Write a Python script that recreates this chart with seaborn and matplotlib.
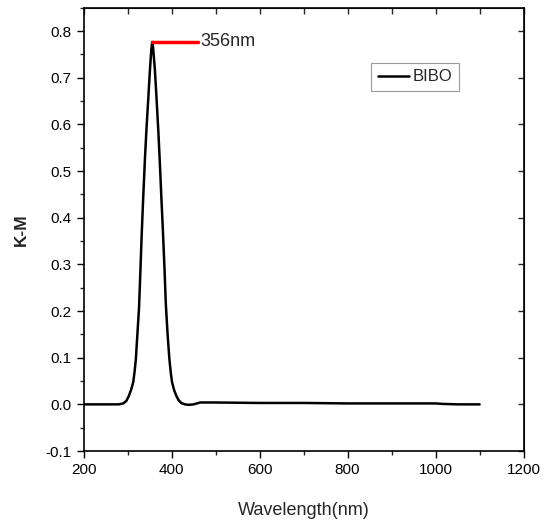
import numpy as np
import pandas as pd
import matplotlib
matplotlib.use("Agg")
import matplotlib.pyplot as plt
import seaborn as sns
from matplotlib.ticker import MultipleLocator

# K-M spectrum
wavelength = [200, 250, 280, 290, 297, 303, 308, 313, 316, 319, 322, 326, 329, 332,
              335, 339.5, 343, 347, 351, 354, 356, 358, 362, 366, 370, 373, 377,
              380, 384, 387, 391, 395, 398, 401, 406, 411, 416, 422, 430, 440,
              450, 465, 500, 600, 700, 800, 900, 1000, 1015, 1050, 1100]
km = [0.0, 0.0, 0.0, 0.002, 0.007, 0.018, 0.031, 0.048, 0.070, 0.098, 0.145,
      0.205, 0.280, 0.360, 0.430, 0.526, 0.590, 0.654, 0.719, 0.760, 0.777,
      0.765, 0.719, 0.654, 0.585, 0.526, 0.440, 0.380, 0.290, 0.215, 0.150,
      0.098, 0.070, 0.048, 0.030, 0.018, 0.009, 0.003, 0.0, -0.001, 0.0, 0.004,
      0.004, 0.003, 0.003, 0.002, 0.002, 0.002, 0.001, 0.0, 0.0]
series = "BIBO"
peak_nm = [356, 460]
peak_val = [0.777, 0.777]
peak_label = "356nm"

sns.set_style("ticks")
plt.rcParams['font.family'] = ['Liberation Sans', 'DejaVu Sans']

df = pd.DataFrame({"Wavelength": wavelength, "KM": km, "Sample": series})

fig = plt.figure(figsize=(5.46, 5.22), dpi=100)
ax = fig.add_axes([0.153, 0.136, 0.806, 0.849])

sns.lineplot(data=df, x="Wavelength", y="KM", hue="Sample", palette=["black"],
             linewidth=1.8, ax=ax)
ax.plot(peak_nm, peak_val, color="red", linewidth=2.5)
ax.text(peak_nm[1] + 5, peak_val[1], peak_label, fontsize=13, va="center", ha="left")

ax.set_xlim(200, 1200)
ax.set_ylim(-0.1, 0.85)
ax.xaxis.set_major_locator(MultipleLocator(200))
ax.xaxis.set_minor_locator(MultipleLocator(100))
ax.yaxis.set_minor_locator(MultipleLocator(0.05))
yt = np.arange(-0.1, 0.81, 0.1)
ax.set_yticks(yt)
ax.set_yticklabels([f"{v:.1f}" for v in yt])

ax.tick_params(axis="both", which="major", direction="out", length=5, width=1,
               labelsize=11, colors="black")
ax.tick_params(axis="both", which="minor", direction="out", length=3, width=1)

for s in ax.spines.values():
    s.set_linewidth(1.2)
    s.set_color("black")

# inward ticks on top and right
top = ax.secondary_xaxis("top")
top.xaxis.set_major_locator(MultipleLocator(100))
top.tick_params(direction="in", length=4, width=1, labeltop=False)
right = ax.secondary_yaxis("right")
right.yaxis.set_major_locator(MultipleLocator(0.1))
right.tick_params(direction="in", length=4, width=1, labelright=False)

ax.set_xlabel("Wavelength(nm)", fontsize=13, labelpad=18)
ax.set_ylabel("K-M", fontsize=12.5, fontweight="bold", labelpad=12)

leg = ax.legend(loc="upper left", bbox_to_anchor=(0.653, 0.876), frameon=True,
                fancybox=False, fontsize=12, handlelength=1.9, handletextpad=0.2,
                borderpad=0.4, borderaxespad=0, title=None)
leg.get_frame().set_edgecolor("gray")
leg.get_frame().set_linewidth(0.8)

fig.savefig("out.png", dpi=100, facecolor="white")
